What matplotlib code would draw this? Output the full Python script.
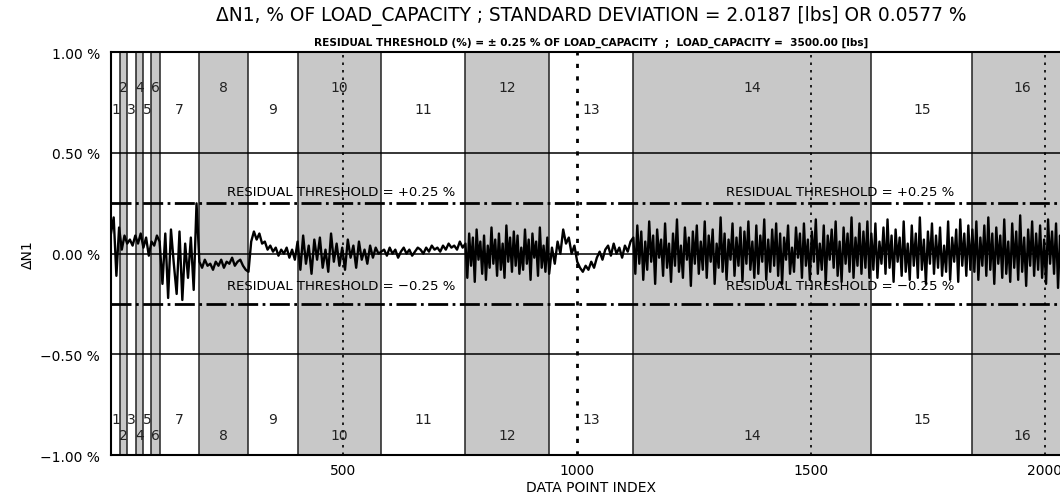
import numpy as np
import matplotlib.pyplot as plt

# band limits (data point index) and band numbers
band_edges = [3, 22, 38, 56, 72, 89, 107, 192, 297, 402, 581, 761, 940, 1120, 1629, 1845, 2058]
band_ids = list(range(1, 17))

# residual trace, read per band (% of load capacity)
trace_b1_6 = [0.10, 0.18, -0.11, 0.13, 0.02, 0.09, 0.05, 0.07, 0.04, 0.09, 0.05, 0.10, 0.03, 0.08, -0.01, 0.06, 0.04, 0.09]
trace_b7 = [0.06, -0.15, 0.10, -0.22, 0.12, -0.05, -0.20, 0.11, -0.23, 0.05, -0.12, 0.08, -0.18, 0.25]
trace_b8 = [-0.04, -0.07, -0.03, -0.06, -0.05, -0.08, -0.04, -0.06, -0.03, -0.07, -0.04, -0.05, -0.02, -0.06, -0.04, -0.03, -0.06, -0.08]
trace_b9 = [-0.09, 0.06, 0.11, 0.07, 0.10, 0.05, 0.06, 0.02, 0.04, 0.01, 0.03, -0.01, 0.02, 0.00, 0.03, -0.02, 0.02, -0.03]
trace_b10 = [0.06, -0.08, 0.09, -0.05, 0.04, -0.10, 0.07, -0.03, 0.08, -0.07, 0.02, -0.09, 0.10, -0.04, 0.05,
             -0.06, 0.03, -0.08, 0.07, -0.02, 0.04, -0.07, 0.06, -0.03, 0.02, -0.05, 0.04, -0.02, 0.03, 0.00]
trace_b11 = [0.01, 0.02, -0.01, 0.03, 0.00, 0.02, -0.02, 0.01, 0.03, 0.00, 0.02, -0.01, 0.01, 0.03, 0.02,
             0.00, 0.03, 0.01, 0.04, 0.02, 0.03, 0.01, 0.04, 0.02, 0.05, 0.03, 0.04, 0.02, 0.06, 0.03]
trace_b12 = [0.05, -0.12, 0.10, -0.06, 0.08, -0.14, 0.12, -0.03, 0.06, -0.10, 0.09, -0.13, 0.04, -0.07, 0.13,
             -0.05, 0.07, -0.11, 0.10, -0.08, 0.05, -0.12, 0.14, -0.04, 0.08, -0.09, 0.11, -0.06, 0.09, -0.10,
             0.03, -0.08, 0.12, -0.05, 0.07, -0.13, 0.10, -0.02, 0.06, -0.11, 0.13, -0.07, 0.04, -0.09, 0.08]
trace_b13 = [-0.10, 0.03, -0.05, 0.06, 0.00, 0.12, 0.05, 0.08, 0.00, 0.04, -0.04, -0.07, -0.09, -0.06, -0.08,
             -0.04, -0.07, -0.02, 0.01, -0.03, 0.02, 0.04, -0.01, 0.05, 0.00, 0.03, -0.02, 0.04, 0.01, 0.06]
trace_b14 = [0.08, -0.10, 0.14, -0.05, 0.11, -0.13, 0.06, -0.08, 0.16, -0.04, 0.09, -0.15, 0.12, -0.02, 0.07,
             -0.11, 0.15, -0.07, 0.05, -0.14, 0.10, -0.06, 0.17, -0.09, 0.04, -0.12, 0.13, -0.03, 0.08, -0.16,
             0.11, -0.05, 0.14, -0.10, 0.06, -0.08, 0.16, -0.12, 0.09, -0.04, 0.12, -0.15, 0.05, -0.07, 0.18,
             -0.09, 0.10, -0.13, 0.07, -0.03, 0.15, -0.11, 0.08, -0.06, 0.13, -0.14, 0.11, -0.05, 0.16, -0.08,
             0.06, -0.12, 0.14, -0.10, 0.09, -0.04, 0.17, -0.13, 0.07, -0.09, 0.12, -0.06, 0.15, -0.11, 0.10,
             -0.15, 0.08, -0.03, 0.14, -0.10, 0.03, -0.09, 0.13, -0.02, 0.10, -0.12, 0.15, -0.06, 0.07, -0.13,
             0.11, -0.04, 0.17, -0.10, 0.05, -0.08, 0.14, -0.15, 0.09, -0.03, 0.12, -0.07, 0.16, -0.11, 0.06,
             -0.14, 0.13, -0.05, 0.10, -0.09, 0.18, -0.12, 0.08, -0.06, 0.15, -0.10, 0.11, -0.07, 0.16, -0.12]
trace_b15 = [0.10, -0.08, 0.15, -0.12, 0.06, -0.05, 0.13, -0.10, 0.17, -0.07, 0.09, -0.14, 0.12, -0.04, 0.08,
             -0.11, 0.16, -0.09, 0.05, -0.13, 0.14, -0.06, 0.10, -0.12, 0.18, -0.08, 0.07, -0.15, 0.11, -0.05,
             0.15, -0.10, 0.09, -0.07, 0.13, -0.11, 0.04, -0.09, 0.16, -0.13, 0.08, -0.04, 0.12, -0.14, 0.17,
             -0.06, 0.10, -0.11, 0.14, -0.08]
trace_b16 = [0.12, -0.09, 0.16, -0.13, 0.08, -0.06, 0.14, -0.11, 0.18, -0.08, 0.10, -0.15, 0.13, -0.05, 0.09,
             -0.12, 0.17, -0.10, 0.06, -0.14, 0.15, -0.07, 0.11, -0.13, 0.19, -0.09, 0.08, -0.16, 0.12, -0.06,
             0.16, -0.11, 0.10, -0.08, 0.14, -0.12, 0.07, -0.15, 0.17, -0.05, 0.11, -0.10, 0.15, -0.17, 0.09,
             -0.07, 0.18, -0.12, 0.13, -0.09]

threshold = 0.25
yticks = [-1.0, -0.5, 0.0, 0.5, 1.0]
ytick_labels = ['\u22121.00 %', '\u22120.50 %', '0.00 %', '0.50 %', '1.00 %']
xticks = [500, 1000, 1500, 2000]

segments = [(0, 6, trace_b1_6), (6, 7, trace_b7), (7, 8, trace_b8), (8, 9, trace_b9), (9, 10, trace_b10),
            (10, 11, trace_b11), (11, 12, trace_b12), (12, 13, trace_b13), (13, 14, trace_b14),
            (14, 15, trace_b15), (15, 16, trace_b16)]
xs, ys = [], []
for a, b, vals in segments:
    xs.append(np.linspace(band_edges[a], band_edges[b], len(vals), endpoint=False))
    ys.append(vals)
xs = np.concatenate(xs)
ys = np.concatenate(ys)

fig = plt.figure(figsize=(10.6, 5.02), dpi=100)
ax = fig.add_axes([0.1047, 0.0916, 0.9066, 0.8022])
ax.set_xlim(band_edges[0], band_edges[-1])
ax.set_ylim(-1, 1)

for i, num in enumerate(band_ids):
    lo, hi = band_edges[i], band_edges[i + 1]
    if num % 2 == 0:
        ax.axvspan(lo, hi, color='#c8c8c8', lw=0, zorder=0)
    mid = (lo + hi) / 2
    top_y = 0.83 if num % 2 == 0 else 0.72
    bot_y = -0.90 if num % 2 == 0 else -0.82
    ax.text(mid, top_y, str(num), ha='center', va='center', fontsize=10, color='#222222', zorder=3)
    ax.text(mid, bot_y, str(num), ha='center', va='center', fontsize=10, color='#222222', zorder=3)
for e in band_edges[1:-1]:
    ax.axvline(e, color='#222222', lw=1.1, zorder=1)

for yv in [-0.5, 0.0, 0.5]:
    ax.axhline(yv, color='black', lw=1.1, zorder=1)
for xv in xticks:
    ax.axvline(xv, color='black', lw=2 if xv == 1000 else 1.2, ls=(0, (1.5, 3)), zorder=2)
for yv in [threshold, -threshold]:
    ax.axhline(yv, color='black', lw=2, ls=(0, (7.2, 1.6, 1.0, 1.6)), zorder=2)

for xpos in [495, 1562]:
    ax.text(xpos, 0.307, 'RESIDUAL THRESHOLD = +0.25 %', ha='center', va='center', fontsize=9.5, zorder=4)
    ax.text(xpos, -0.156, 'RESIDUAL THRESHOLD = \u22120.25 %', ha='center', va='center', fontsize=9.5, zorder=4)

ax.plot(xs, ys, color='black', lw=1.7, zorder=5)

ax.set_yticks(yticks)
ax.set_yticklabels(ytick_labels)
ax.set_xticks(xticks)
ax.set_xticklabels([str(v) for v in xticks])
ax.tick_params(length=0, labelsize=10)
ax.tick_params(axis='y', pad=8)
ax.tick_params(axis='x', pad=6)
ax.set_xlabel('DATA POINT INDEX', fontsize=10, labelpad=2)
ax.set_ylabel('\u0394N1', fontsize=10)
ax.yaxis.set_label_coords(-0.079, 0.5)
for s in ['left', 'top', 'bottom']:
    ax.spines[s].set_linewidth(1.5)
ax.spines['right'].set_visible(False)

ax.text(0.5, 1.0 + 37 / 402, '\u0394N1, % OF LOAD_CAPACITY ; STANDARD DEVIATION = 2.0187 [lbs] OR 0.0577 %',
        transform=ax.transAxes, ha='center', va='center', fontsize=13.4)
ax.text(0.5, 1.0 + 10.5 / 402,
        'RESIDUAL THRESHOLD (%) = \u00b1 0.25 % OF LOAD_CAPACITY  ;  LOAD_CAPACITY =  3500.00 [lbs]',
        transform=ax.transAxes, ha='center', va='center', fontsize=7.6, fontweight='bold')

plt.savefig('out.png', dpi=100)
